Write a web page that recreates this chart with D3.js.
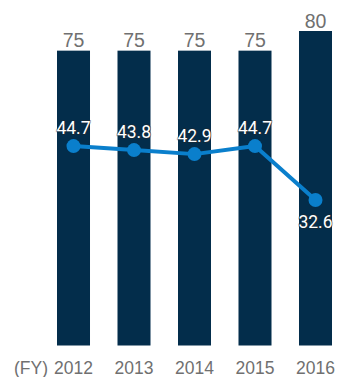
<!DOCTYPE html>
<html><head><meta charset="utf-8">
<script src="https://cdn.jsdelivr.net/npm/d3@7"></script>
<style>html,body{margin:0;padding:0;background:#fff;}</style>
</head><body>
<svg id="c" width="338" height="377"></svg>
<script>
const years = ["2012","2013","2014","2015","2016"];
const barValues = [75, 75, 75, 75, 80];
const lineValues = [44.7, 43.8, 42.9, 44.7, 32.6];
const lineLabels = ["44.7","43.8","42.9","44.7","32.6"];
const axisPrefix = "(FY)";

const svg = d3.select("#c");
const x = d3.scaleBand().domain(years).range([43.25, 345.75]).paddingInner(0.4545).paddingOuter(0.2273);
const yBar = d3.scaleLinear().domain([0, 80]).range([345.5, 31]);
const yLine = d3.scaleLinear().domain([0, 70.5]).range([345.5, 31]);

svg.selectAll("rect.bar").data(years).join("rect")
  .attr("class","bar")
  .attr("x", d => x(d)).attr("width", x.bandwidth())
  .attr("y", (d,i) => yBar(barValues[i]))
  .attr("height", (d,i) => yBar(0) - yBar(barValues[i]))
  .attr("fill", "#032d4b");

svg.selectAll("text.bl").data(years).join("text")
  .attr("class","bl")
  .attr("x", d => x(d) + x.bandwidth()/2)
  .attr("y", (d,i) => yBar(barValues[i]) - 3.5)
  .attr("text-anchor","middle")
  .attr("font-family","'Liberation Sans', Arial, sans-serif")
  .attr("font-size","19.5px")
  .attr("fill","#707070")
  .text((d,i) => barValues[i]);

const line = d3.line().x((d,i) => x(years[i]) + x.bandwidth()/2).y(d => yLine(d));
svg.append("path").datum(lineValues)
  .attr("d", line).attr("fill","none")
  .attr("stroke","#0a7fcc").attr("stroke-width",4).attr("stroke-linejoin","round");

svg.selectAll("circle.pt").data(lineValues).join("circle")
  .attr("class","pt")
  .attr("cx", (d,i) => x(years[i]) + x.bandwidth()/2)
  .attr("cy", d => yLine(d))
  .attr("r", 7)
  .attr("fill","#0a7fcc");

svg.selectAll("text.ll").data(lineValues).join("text")
  .attr("class","ll")
  .attr("x", (d,i) => x(years[i]) + x.bandwidth()/2)
  .attr("y", (d,i) => i === 4 ? yLine(d) + 28 : yLine(d) - 12.5)
  .attr("text-anchor","middle")
  .attr("font-family","Roboto, sans-serif")
  .attr("font-size","17.5px")
  .attr("fill","#ffffff")
  .attr("stroke","rgba(40,40,40,0.45)")
  .attr("stroke-width",2)
  .attr("paint-order","stroke")
  .text((d,i) => lineLabels[i]);

svg.selectAll("text.xl").data(years).join("text")
  .attr("class","xl")
  .attr("x", d => x(d) + x.bandwidth()/2)
  .attr("y", 374)
  .attr("text-anchor","middle")
  .attr("font-family","'Liberation Sans', Arial, sans-serif")
  .attr("font-size","17.5px")
  .attr("fill","#707070")
  .text(d => d);

svg.append("text")
  .attr("x", x(years[0]) + x.bandwidth()/2 - 25.5)
  .attr("y", 374)
  .attr("text-anchor","end")
  .attr("font-family","'Liberation Sans', Arial, sans-serif")
  .attr("font-size","17.5px")
  .attr("fill","#707070")
  .text(axisPrefix);
</script>
</body></html>
